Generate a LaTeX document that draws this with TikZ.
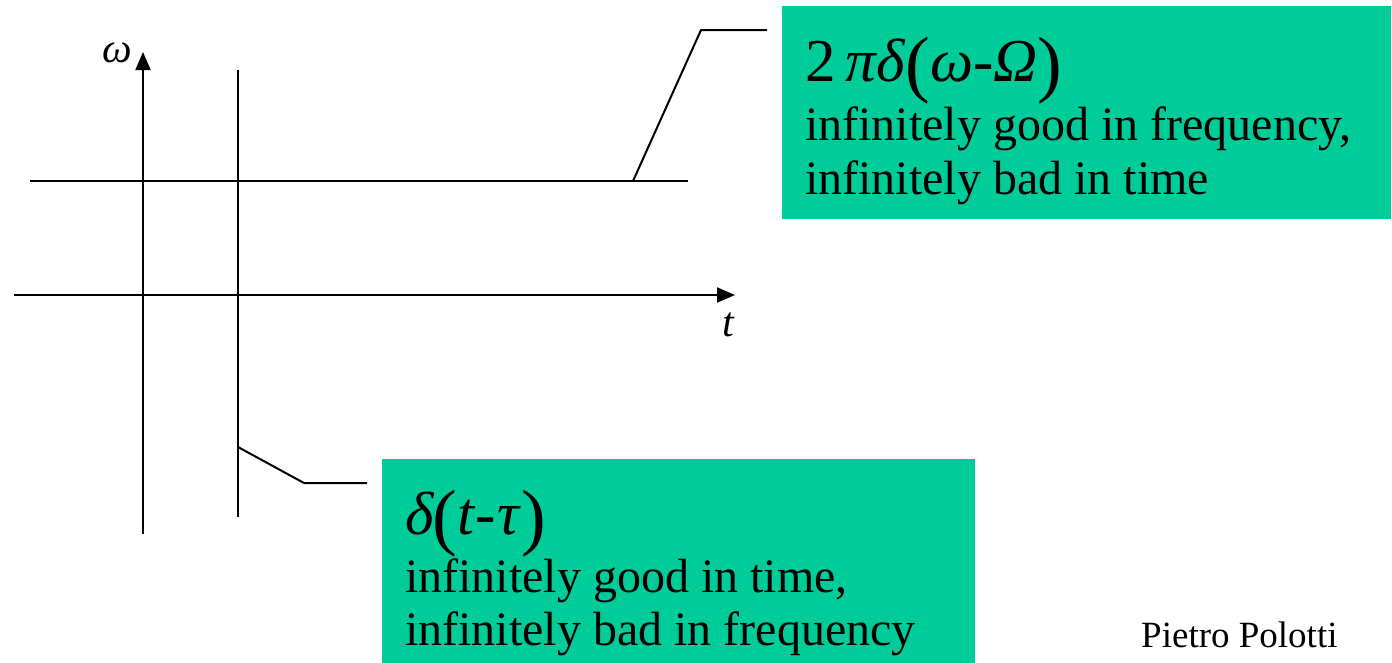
\documentclass[tikz,border=0pt]{standalone}
\usepackage{fontspec}
\setmainfont{Liberation Serif}
\usetikzlibrary{arrows.meta}
\definecolor{boxgreen}{RGB}{0,204,153}
\newcommand\bigparen[1]{\raisebox{-7pt}{\fontsize{74}{74}\selectfont #1}}
\tikzset{
  greenbox/.style={draw=none, fill=boxgreen, rectangle, inner sep=0pt, anchor=north west},
  txt/.style={anchor=base west, inner sep=0pt, font=\fontsize{48}{56}\selectfont},
  ttl/.style={anchor=base west, inner sep=0pt, font=\fontsize{61}{70}\selectfont},
  axis/.style={line width=2pt, -{Triangle[length=18pt,width=15pt]}},
  plain/.style={line width=2pt},
  callout/.style={line width=2pt, line join=miter}
}
\begin{document}
\begin{tikzpicture}[x=1pt,y=-1pt]
\useasboundingbox (0,0) rectangle (1392,662);
% boxes
\node[greenbox, minimum width=609pt, minimum height=213pt] (ubox) at (782,6) {};
\node[greenbox, minimum width=593pt, minimum height=204pt] (lbox) at (382,459) {};
% box texts
\node[ttl] (utitle) at (805,81) {2\,\textit{πδ}\bigparen{(}\textit{ω}-\textit{Ω}\bigparen{)}};
\node[txt] (uline1) at (805,140) {infinitely good in frequency,};
\node[txt] (uline2) at (805,194) {infinitely bad in time};
\node[ttl] (ltitle) at (405,534) {\textit{δ}\kern-2pt\bigparen{(}\textit{t}-\kern2pt\textit{τ}\bigparen{)}};
\node[txt] (lline1) at (405,592) {infinitely good in time,};
\node[txt] (lline2) at (405,645) {infinitely bad in frequency};
\node[anchor=base west, inner sep=0pt, font=\fontsize{37}{44}\selectfont] (author) at (1141,647) {Pietro Polotti};
% axes
\coordinate (wbot) at (143,534);
\coordinate (wtop) at (143,52);
\coordinate (tleft) at (14,295);
\coordinate (tright) at (735,295);
\draw[axis] (wbot) -- (wtop);
\draw[axis] (tleft) -- (tright);
\node[anchor=base west, inner sep=0pt, font=\fontsize{42}{48}\selectfont\itshape] (wlab) at (102,62) {ω};
\node[anchor=base west, inner sep=0pt, font=\fontsize{42}{48}\selectfont\itshape] (tlab) at (722,336) {t};
% impulse lines
\coordinate (vtop) at (238,70);
\coordinate (vbot) at (238,517);
\coordinate (hleft) at (30,181);
\coordinate (hright) at (688,181);
\draw[plain] (vtop) -- (vbot);
\draw[plain] (hleft) -- (hright);
% callouts
\coordinate (ua) at (633,181);
\coordinate (ub) at (701,30);
\coordinate (uc) at (767,30);
\draw[callout] (ua) -- (ub) -- (uc);
\coordinate (la) at (238,447);
\coordinate (lb) at (304,483);
\coordinate (lc) at (367,483);
\draw[callout] (la) -- (lb) -- (lc);
\end{tikzpicture}
\end{document}
